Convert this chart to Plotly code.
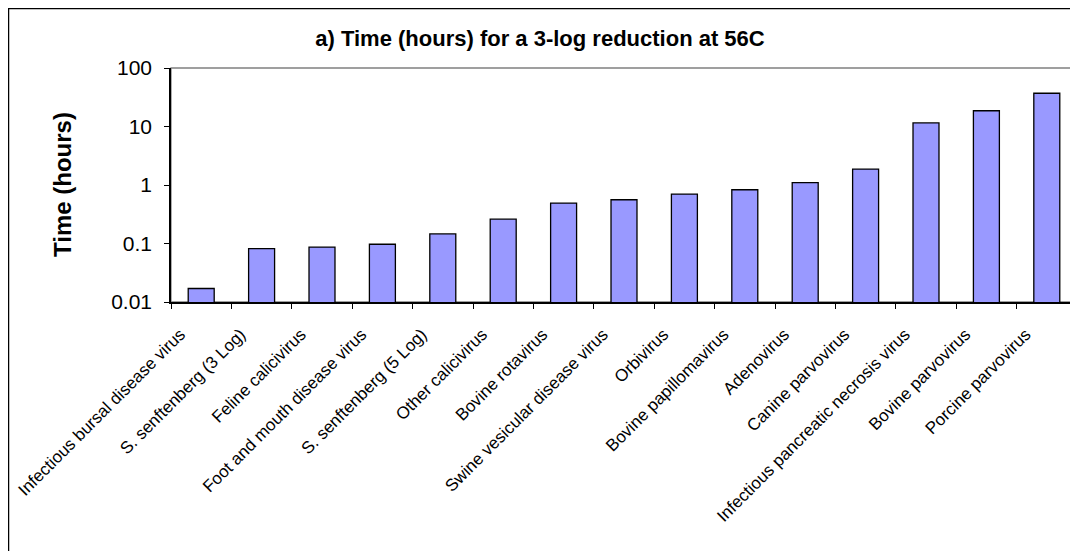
import plotly.graph_objects as go

categories = [
    "Infectious bursal disease virus",
    "S. senftenberg (3 Log)",
    "Feline calicivirus",
    "Foot and mouth disease virus",
    "S. senftenberg (5 Log)",
    "Other calicivirus",
    "Bovine rotavirus",
    "Swine vesicular disease virus",
    "Orbivirus",
    "Bovine papillomavirus",
    "Adenovirus",
    "Canine parvovirus",
    "Infectious pancreatic necrosis virus",
    "Bovine parvovirus",
    "Porcine parvovirus",
]
hours = [0.017, 0.082, 0.087, 0.097, 0.146, 0.26, 0.49, 0.56, 0.70, 0.83,
         1.1, 1.87, 11.5, 18.6, 37.0]
y_tick_vals = [0.01, 0.1, 1, 10, 100]
y_tick_text = ["0.01", "0.1", "1", "10", "100"]

# figure is placed by the page at an 8px offset
W, H = 1078, 551
L, R, T, B = 163, 1069, 60, 294
pw, ph = R - L, B - T

def px(x):
    return (x - L) / pw

def py(y):
    return (B - y) / ph

FONT = "Arial, Liberation Sans, sans-serif"

fig = go.Figure(go.Bar(
    x=categories, y=hours,
    marker=dict(color="#9999FF", line=dict(color="black", width=1.3)),
))

fig.update_layout(
    width=W, height=H,
    margin=dict(l=L, r=W - R, t=T, b=H - B, autoexpand=False),
    paper_bgcolor="white", plot_bgcolor="white",
    bargap=0.57,
    showlegend=False,
    font=dict(family=FONT, color="black"),
    title=dict(text="<b>a) Time (hours) for a 3-log reduction at 56C</b>",
               x=532 / W, xref="container", xanchor="center",
               y=1 - 30 / H, yref="container", yanchor="middle",
               font=dict(size=22, family=FONT, color="black")),
)

fig.update_yaxes(
    type="log", range=[-2, 2],
    tickvals=y_tick_vals, ticktext=y_tick_text,
    showgrid=False, zeroline=False,
    showline=True, linecolor="black", linewidth=1.5,
    ticks="outside", ticklen=5, tickcolor="black", tickwidth=1.3,
    ticklabelstandoff=8,
    tickfont=dict(size=21, family=FONT, color="black"),
)
fig.update_xaxes(
    type="category",
    showgrid=False, zeroline=False,
    showline=True, linecolor="black", linewidth=1.5,
    ticks="outside", ticklen=5, tickcolor="black", tickwidth=1.3,
    tickson="boundaries",
    tickangle=-45,
    ticklabelshift=-21,
    ticklabelstandoff=14,
    tickfont=dict(size=17, family=FONT, color="black"),
)

# plot-area border (grey) and chart border (black)
fig.add_shape(type="rect", xref="paper", yref="paper", x0=0, x1=1, y0=0, y1=1,
              line=dict(color="#808080", width=1.3), layer="below")
fig.add_shape(type="line", xref="paper", yref="paper",
              x0=px(0), x1=px(0), y0=py(0), y1=py(H + 5),
              line=dict(color="black", width=2.5))
fig.add_shape(type="line", xref="paper", yref="paper",
              x0=px(0), x1=px(W + 5), y0=py(0), y1=py(0),
              line=dict(color="black", width=2.5))

fig.add_annotation(text="<b>Time (hours)</b>", xref="paper", yref="paper",
                   x=px(54), y=0.5, textangle=-90, showarrow=False,
                   xanchor="center", yanchor="middle",
                   font=dict(size=24, family=FONT, color="black"))

fig.write_html("out.html")
